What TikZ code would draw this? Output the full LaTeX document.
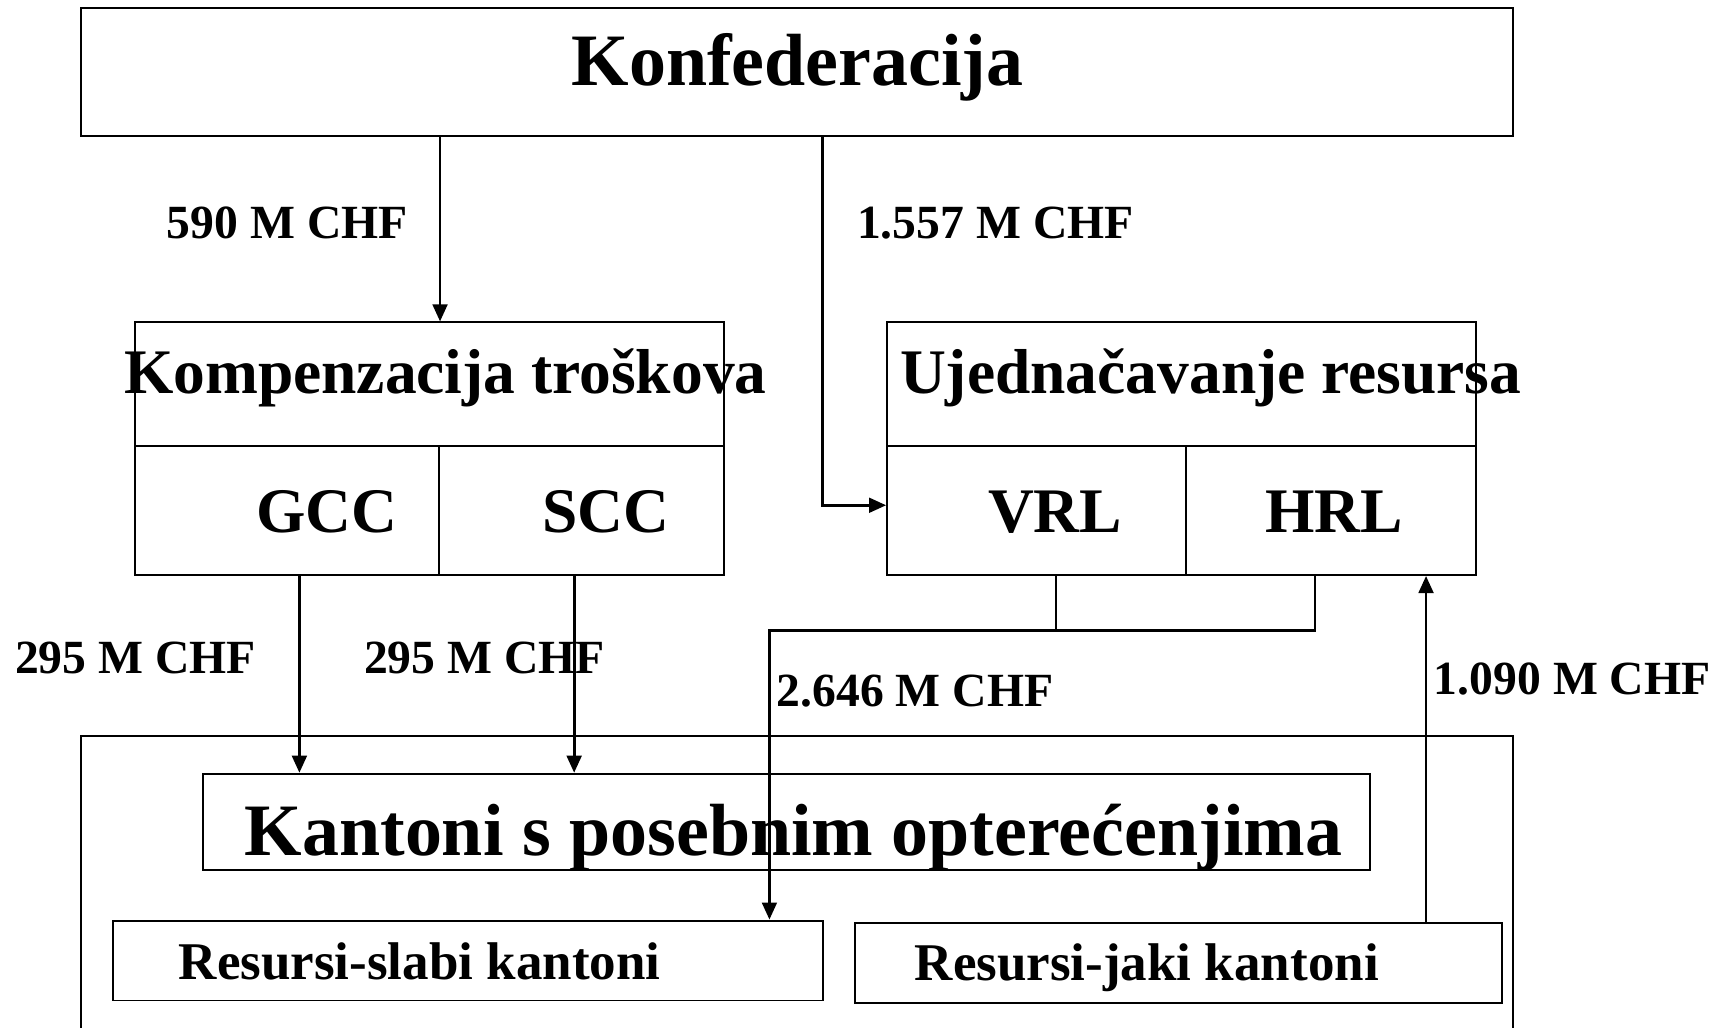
\documentclass[tikz,border=0pt]{standalone}
\usepackage{fontspec}
\setmainfont{Liberation Serif}
\usetikzlibrary{arrows.meta}
\tikzset{
  cell/.style={draw=black, line width=0.5pt, rectangle, inner sep=0pt, anchor=north west},
  bigtxt/.style={font=\fontsize{19.1pt}{21pt}\selectfont\bfseries, inner sep=0pt},
  midtxt/.style={font=\fontsize{16.4pt}{18pt}\selectfont\bfseries, inner sep=0pt, anchor=base west},
  smalltxt/.style={font=\fontsize{13.7pt}{15pt}\selectfont\bfseries, inner sep=0pt, anchor=base west},
  lbl/.style={font=\fontsize{12.3pt}{14pt}\selectfont\bfseries, inner sep=0pt, anchor=base west},
  arr/.style={line width=0.7pt, -{Triangle[length=4.4pt,width=3.8pt]}},
  ln/.style={line width=0.5pt}
}
\begin{document}
\begin{tikzpicture}[x=0.01cm,y=-0.01cm]
\useasboundingbox[fill=white] (0,0) rectangle (1568,933);
% outer box (open at bottom, clipped)
\begin{scope}
\clip (0,0) rectangle (1568,933);
\node[cell, minimum width=1301*0.01cm, minimum height=290*0.01cm] (outer) at (73,668) {};
\end{scope}
% boxes
\node[cell, minimum width=1301*0.01cm, minimum height=117*0.01cm] (konf) at (73,6) {};
\node[cell, minimum width=535.2*0.01cm, minimum height=112*0.01cm] (komp) at (121.5,292) {};
\node[cell, minimum width=276.5*0.01cm, minimum height=117.5*0.01cm] (gcc) at (121.5,404) {};
\node[cell, minimum width=258.7*0.01cm, minimum height=117.5*0.01cm] (scc) at (398,404) {};
\node[cell, minimum width=535*0.01cm, minimum height=112*0.01cm] (ujed) at (805,292) {};
\node[cell, minimum width=271.6*0.01cm, minimum height=117.5*0.01cm] (vrl) at (805,404) {};
\node[cell, minimum width=263.4*0.01cm, minimum height=117.5*0.01cm] (hrl) at (1076.6,404) {};
\node[cell, minimum width=1059.8*0.01cm, minimum height=87.6*0.01cm] (kant) at (183.6,702) {};
\node[cell, minimum width=645*0.01cm, minimum height=72.6*0.01cm] (slabi) at (102,835.4) {};
\node[cell, minimum width=588.5*0.01cm, minimum height=73*0.01cm] (jaki) at (775.5,837.5) {};
% texts
\node[bigtxt, anchor=base] (tkonf) at (724.5,78) {Konfederacija};
\node[midtxt] (tkomp) at (112,357.6) {Kompenzacija troškova};
\node[midtxt] (tujed) at (817,357.6) {Ujednačavanje resursa};
\node[midtxt] (tgcc) at (232,484) {GCC};
\node[midtxt] (tscc) at (492,484) {SCC};
\node[midtxt] (tvrl) at (897,484) {VRL};
\node[midtxt] (thrl) at (1149,484) {HRL};
\node[bigtxt, anchor=base west] (tkant) at (221.7,777) {Kantoni s posebnim opterećenjima};
\node[smalltxt] (tslabi) at (161.7,889.6) {Resursi-slabi kantoni};
\node[smalltxt] (tjaki) at (830.3,890.5) {Resursi-jaki kantoni};
% labels
\node[lbl] (l590) at (151,217) {590 M CHF};
\node[lbl] (l1557) at (778,217) {1.557 M CHF};
\node[lbl] (l295a) at (13,612) {295 M CHF};
\node[lbl] (l295b) at (330,612) {295 M CHF};
\node[lbl] (l2646) at (705,642) {2.646 M CHF};
\node[lbl] (l1090) at (1302,630.5) {1.090 M CHF};
% helper coordinates
\coordinate (xa) at (747,459);
\coordinate (xg) at (272,0);
\coordinate (xs) at (521.6,0);
\coordinate (xv) at (959,0);
\coordinate (xh) at (1194.6,0);
\coordinate (jn) at (699,573);
\coordinate (xj) at (1295.5,0);
% connectors
\draw[arr] (konf.south -| gcc.east) -- (komp.north -| gcc.east);
\draw[arr] (konf.south -| xa) -- (xa) -- (vrl.west |- xa);
\draw[arr] (gcc.south -| xg) -- (kant.north -| xg);
\draw[arr] (scc.south -| xs) -- (kant.north -| xs);
\draw[ln] (vrl.south -| xv) -- (xv |- jn);
\draw[arr] (hrl.south -| xh) |- (jn) -- (slabi.north -| jn);
\draw[arr] (jaki.north -| xj) -- (hrl.south -| xj);
\end{tikzpicture}
\end{document}
